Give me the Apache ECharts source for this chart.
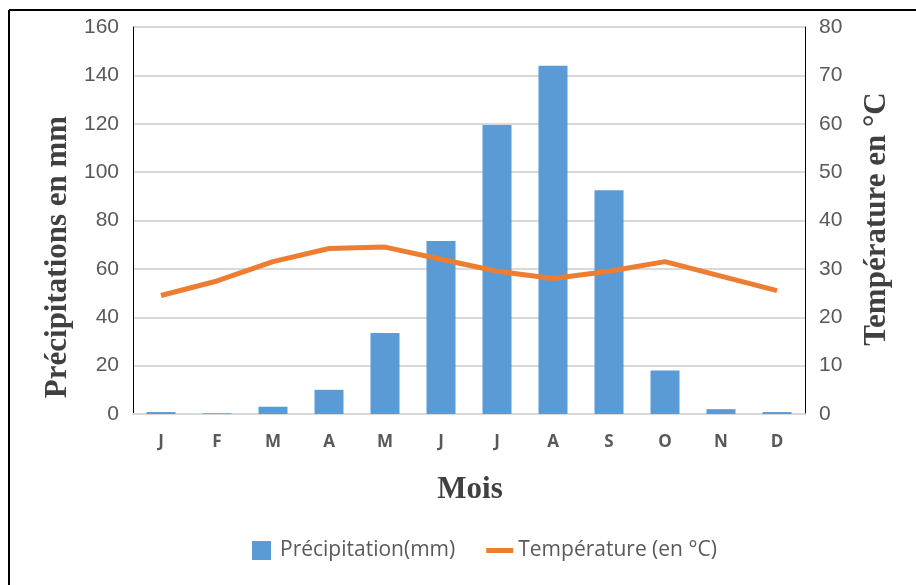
<!DOCTYPE html>
<html>
<head>
<meta charset="utf-8">
<script src="https://cdn.jsdelivr.net/npm/echarts@6/dist/echarts.min.js"></script>
<style>html,body{margin:0;padding:0;background:#fff}#c{width:916px;height:585px}</style>
</head>
<body>
<div id="c"></div>
<script>
const months = ['J','F','M','A','M','J','J','A','S','O','N','D'];
const precipitation = [0.8, 0.3, 3, 10, 33.5, 71.5, 119.5, 144, 92.5, 18, 2, 0.8];
const temperature = [24.5, 27.5, 31.5, 34.2, 34.5, 32, 29.5, 28, 29.5, 31.5, 28.5, 25.5];
const precipTicks = {min: 0, max: 160, interval: 20};
const tempTicks = {min: 0, max: 80, interval: 10};
const leftName = 'Précipitations en mm';
const rightName = 'Température en °C';
const xName = 'Mois';

const chart = echarts.init(document.getElementById('c'), null, {renderer: 'canvas'});
const tickFont = {color: '#595959', fontSize: 21, fontFamily: '"Liberation Sans", Arimo, sans-serif'};
const nameStyle = {fill: '#404040', fontSize: 31, fontWeight: 'bold', fontFamily: '"Liberation Serif", "DejaVu Serif", serif', align: 'center', verticalAlign: 'middle'};
chart.setOption({
  animation: false,
  backgroundColor: '#fff',
  graphic: [
    {type: 'line', shape: {x1: 9, y1: 10, x2: 916, y2: 10}, style: {stroke: '#000', lineWidth: 2}},
    {type: 'line', shape: {x1: 9, y1: 10, x2: 9, y2: 585}, style: {stroke: '#000', lineWidth: 2}},
    {type: 'text', x: 58, y: 257, rotation: Math.PI / 2, style: Object.assign({text: leftName}, nameStyle)},
    {type: 'text', x: 877, y: 219, rotation: Math.PI / 2, style: Object.assign({text: rightName}, nameStyle)},
    {type: 'text', x: 470, y: 490, style: Object.assign({text: xName}, nameStyle)}
  ],
  grid: {left: 133, right: 111, top: 27, bottom: 171, containLabel: false},
  legend: {
    left: 247, top: 535, itemGap: 31,
    itemWidth: 27, itemHeight: 19,
    textStyle: {color: '#595959', fontSize: 21, fontFamily: '"Open Sans", "Noto Sans", sans-serif'},
    data: [
      {name: 'Précipitation(mm)', icon: 'path://M0,0L19,0L19,19L0,19Z', itemStyle: {color: '#5B9BD5'}},
      {name: 'Température (en °C)', icon: 'path://M0,0L27,0L27,5L0,5Z', itemStyle: {color: '#ED7D31'}}
    ]
  },
  xAxis: {
    type: 'category', data: months,
    axisLine: {lineStyle: {color: '#D9D9D9', width: 2}},
    axisTick: {show: false},
    axisLabel: {color: '#595959', fontSize: 17, fontWeight: 'bold', fontFamily: '"Open Sans", sans-serif', margin: 20}
  },
  yAxis: [
    {
      type: 'value', min: precipTicks.min, max: precipTicks.max, interval: precipTicks.interval, position: 'left',
      axisLine: {show: true, lineStyle: {color: '#000', width: 1}},
      axisTick: {show: false},
      splitLine: {lineStyle: {color: '#D9D9D9', width: 2}},
      axisLabel: Object.assign({margin: 14}, tickFont)
    },
    {
      type: 'value', min: tempTicks.min, max: tempTicks.max, interval: tempTicks.interval, position: 'right',
      axisLine: {show: true, lineStyle: {color: '#000', width: 1}},
      axisTick: {show: false},
      splitLine: {show: false},
      axisLabel: Object.assign({margin: 14}, tickFont)
    }
  ],
  series: [
    {
      name: 'Précipitation(mm)', type: 'bar', data: precipitation, yAxisIndex: 0,
      barWidth: 29, itemStyle: {color: '#5B9BD5'}, z: 2
    },
    {
      name: 'Température (en °C)', type: 'line', data: temperature, yAxisIndex: 1,
      symbol: 'none', lineStyle: {color: '#ED7D31', width: 5}, itemStyle: {color: '#ED7D31'}, z: 3
    }
  ]
});
</script>
</body>
</html>
